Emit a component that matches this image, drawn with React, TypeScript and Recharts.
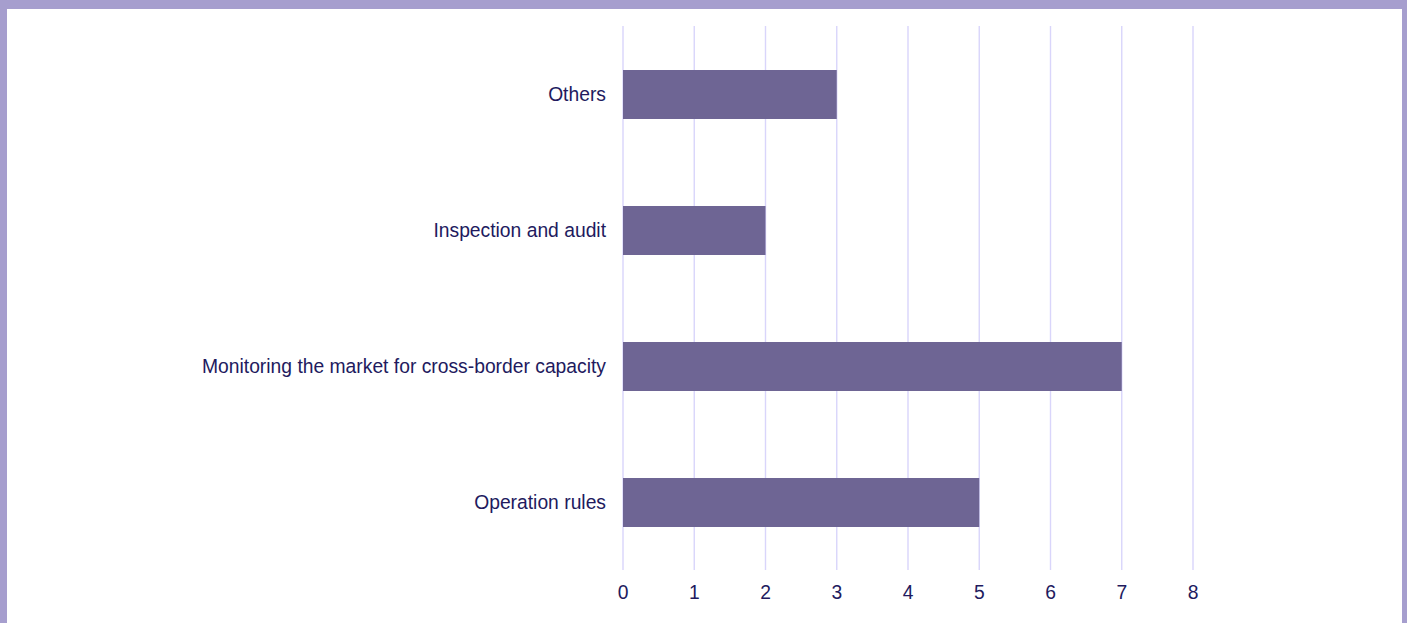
import React from "react";
import { BarChart, Bar, XAxis, YAxis, CartesianGrid } from "recharts";

const categories = [
  "Others",
  "Inspection and audit",
  "Monitoring the market for cross-border capacity",
  "Operation rules",
];
const values = [3, 2, 7, 5];
const xTicks = [0, 1, 2, 3, 4, 5, 6, 7, 8];

const data = categories.map((name, i) => ({ name, value: values[i] }));

const textColor = "#221a5e";
const font = "'Liberation Sans', Arial, sans-serif";

export default function App() {
  return (
    <div
      style={{
        position: "absolute",
        left: 0,
        top: 0,
        width: 1407,
        height: 623,
        background: "#a69ece",
        overflow: "hidden",
      }}
    >
      <div
        style={{
          position: "absolute",
          left: 7,
          top: 9,
          width: 1395,
          height: 620,
          background: "#ffffff",
        }}
      />
      <div style={{ position: "absolute", left: 0, top: 0 }}>
        <BarChart
          width={1407}
          height={623}
          data={data}
          layout="vertical"
          margin={{ top: 26, right: 214, bottom: 23, left: 0 }}
        >
          <CartesianGrid horizontal={false} vertical={true} stroke="#d9d5fb" strokeWidth={1.4} />
          <XAxis
            type="number"
            domain={[0, 8]}
            ticks={xTicks}
            axisLine={false}
            tickLine={false}
            tickSize={0}
            tickMargin={15}
            height={30}
            interval={0}
            tick={{ fill: textColor, fontSize: 19.3, fontFamily: font }}
          />
          <YAxis
            type="category"
            dataKey="name"
            width={623}
            axisLine={false}
            tickLine={false}
            tickSize={0}
            tickMargin={17}
            interval={0}
            tick={{ fill: textColor, fontSize: 19.3, fontFamily: font }}
          />
          <Bar dataKey="value" fill="#6e6594" barSize={49} isAnimationActive={false} />
        </BarChart>
      </div>
    </div>
  );
}
